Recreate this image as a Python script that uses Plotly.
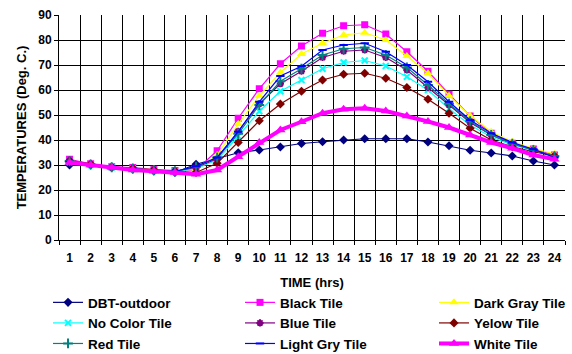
import plotly.graph_objects as go

hours = list(range(1, 25))
hour_labels = [str(h) for h in hours]

dbt_outdoor = [30, 30, 29, 28.3, 27.5, 27, 30.3, 32.5, 34.9, 36, 37.2, 38.6, 39.3, 40, 40.5, 40.5, 40.5, 39.2, 37.7, 35.9, 34.8, 33.6, 31.6, 30]
black_tile = [32.3, 30.5, 29.3, 29, 28.3, 27.8, 28, 35.7, 48.7, 60.5, 70.5, 77.6, 82.7, 85.7, 86.1, 82.4, 75.3, 67.5, 58.3, 49.6, 42.7, 38.7, 36.4, 34]
dark_gray_tile = [31.8, 30.3, 29.2, 28.8, 28.2, 27.7, 28.3, 34, 46.4, 57.7, 67, 74.4, 78.7, 82, 82.9, 80, 73.6, 66.7, 57.7, 49.7, 43.3, 39.3, 36.7, 34.4]
no_color_tile = [31.2, 30, 29, 28.5, 27.8, 27.4, 28.5, 32, 41.5, 51.5, 59.5, 64, 68.5, 71, 71.8, 69.6, 65.3, 60, 52.5, 46, 41.2, 38, 35.8, 33.2]
blue_tile = [31.5, 30.2, 29.1, 28.6, 28, 27.5, 29, 32.5, 43.5, 54.5, 62.5, 67.5, 73, 75.5, 76, 73, 68, 61, 54, 47, 42, 38.5, 36, 33.5]
yelow_tile = [31.8, 30.4, 29.2, 28.7, 28.1, 27.6, 27, 30.7, 39, 47.7, 54.4, 59.5, 64, 66.3, 66.7, 64.7, 61, 56.3, 50.7, 44.7, 40, 37.3, 35.3, 33.6]
red_tile = [31.5, 30.2, 29.1, 28.6, 28, 27.5, 29.3, 33, 42.5, 54, 63.5, 68.5, 74, 76.5, 77, 74, 69, 62, 54.5, 47.5, 42, 38.5, 36, 33.5]
light_gry_tile = [31.3, 30.1, 29, 28.5, 27.9, 27.4, 29.5, 33, 43.3, 55.3, 65.6, 69.5, 76, 78, 78.7, 75.3, 70, 63.3, 55.3, 48, 42.7, 39, 36.3, 33]
white_tile = [31, 30, 29, 28, 27.5, 27, 26.3, 28, 33.3, 39, 44, 47.3, 50.7, 52.3, 52.7, 51.6, 49.6, 47.4, 45, 42, 39, 36.7, 34, 32.3]

# (name, values, colour, marker, marker size, line width, legend column)
series = [
    ("DBT-outdoor", dbt_outdoor, "#000080", "diamond", 7, 1.2, "legend"),
    ("Black Tile", black_tile, "#FF00FF", "square", 7, 1.2, "legend2"),
    ("Dark Gray Tile", dark_gray_tile, "#FFFF00", "triangle-up", 8, 1.2, "legend3"),
    ("No Color Tile", no_color_tile, "#00FFFF", "x-thin-open", 6, 1.2, "legend"),
    ("Blue Tile", blue_tile, "#800080", "asterisk-open", 6, 1.2, "legend2"),
    ("Yelow Tile", yelow_tile, "#800000", "diamond", 7, 1.2, "legend3"),
    ("Red Tile", red_tile, "#008080", "cross-thin-open", 7, 1.2, "legend"),
    ("Light Gry Tile", light_gry_tile, "#0000FF", "line-ew-open", 6, 1.2, "legend2"),
    ("White Tile", white_tile, "#FF00FF", "triangle-up", 9, 4, "legend3"),
]

fig = go.Figure()
for name, vals, color, sym, msize, lw, leg in series:
    open_sym = sym.endswith("-open")
    fig.add_trace(go.Scatter(
        x=hours, y=vals, name=name, mode="lines+markers", legend=leg,
        line=dict(color=color, width=lw),
        marker=dict(symbol=sym, size=msize, color=color,
                    line=dict(color=color, width=2 if open_sym else 0)),
    ))

font = "Liberation Sans, Arial, sans-serif"
legend_font = dict(family=font, size=13.5, color="black", weight="bold")


def leg(xpos):
    return dict(orientation="v", x=xpos, xanchor="left", y=-0.2093, yanchor="top",
                font=legend_font, itemwidth=30, tracegroupgap=0,
                bgcolor="rgba(0,0,0,0)", borderwidth=0)


fig.update_layout(
    width=572, height=354,
    margin=dict(l=59, r=7, t=15, b=114, autoexpand=False),
    paper_bgcolor="white", plot_bgcolor="white",
    font=dict(family=font, size=12, color="black"),
    showlegend=True,
    legend=leg(-0.0217),
    legend2=leg(0.3577),
    legend3=leg(0.7411),
    xaxis=dict(
        range=[0.5, 24.5], tickmode="array", tickvals=hours, ticktext=hour_labels,
        showgrid=False, zeroline=False, automargin=False,
        showline=True, linecolor="black", linewidth=1,
        ticks="", tickfont=dict(family=font, size=12, weight="bold"),
        ticklabelstandoff=7,
        minor=dict(tickvals=[h + 0.5 for h in [0] + hours], showgrid=True,
                   gridcolor="black", gridwidth=1, ticks="outside",
                   ticklen=4, tickcolor="black"),
        title=dict(text="TIME (hrs)", font=dict(family=font, size=13, weight="bold"), standoff=13),
    ),
    yaxis=dict(
        range=[0, 90], tick0=0, dtick=10, showgrid=True, gridcolor="black", gridwidth=1,
        zeroline=False, showline=True, linecolor="black", linewidth=1, automargin=False,
        ticks="outside", ticklen=4, tickcolor="black",
        tickfont=dict(family=font, size=12, weight="bold"),
        title=dict(text="TEMPERATURES (Deg. C.)", font=dict(family=font, size=13, weight="bold"), standoff=8),
    ),
)

fig.write_html("out.html", config={"displayModeBar": False},
               post_script="document.body.style.margin='0px';")
